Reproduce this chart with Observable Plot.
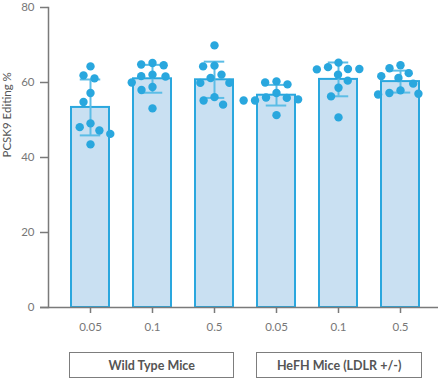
<!DOCTYPE html>
<html>
<head>
<meta charset="utf-8">
<script src="https://cdn.jsdelivr.net/npm/d3@7"></script>
<script src="https://cdn.jsdelivr.net/npm/@observablehq/plot@0.6"></script>
<style>
  html, body { margin: 0; padding: 0; background: #fff; }
  #wrap { position: relative; width: 440px; height: 381px; font-family: Lato, "Open Sans", sans-serif; }
  #wrap svg { position: absolute; top: 0; left: 0; background: transparent; }
  .gbox { position: absolute; box-sizing: border-box; border: 1.5px solid #7d7d7d; background: #fff;
          display: flex; align-items: center; justify-content: center;
          font-size: 12.5px; font-weight: 700; color: #555; }
</style>
</head>
<body>
<div id="wrap"></div>
<script>
// ---- data ----
const groups = ["Wild Type Mice", "HeFH Mice (LDLR +/-)"];
const doses = ["0.05", "0.1", "0.5"];
const yTicks = [0, 20, 40, 60, 80];
const yTitle = "PCSK9 Editing %";

const wt005 = [64.3, 61.9, 61.1, 57.2, 54.8, 49.1, 48.1, 47.2, 46.3, 43.5];
const wt01  = [65.2, 64.8, 64.6, 62.1, 61.7, 61.6, 60.0, 58.8, 58.0, 53.1];
const wt05  = [69.9, 64.5, 64.3, 62.1, 61.2, 59.9, 59.9, 56.1, 55.2, 54.1];
const he005 = [60.3, 60.0, 59.5, 57.2, 56.0, 55.9, 55.5, 55.2, 55.2, 51.3];
const he01  = [65.3, 64.1, 63.6, 63.6, 63.5, 62.1, 60.5, 58.6, 56.3, 50.7];
const he05  = [64.6, 63.8, 62.5, 61.7, 61.2, 59.7, 57.9, 57.2, 57.0, 56.8];

const series = [
  [groups[0], doses[0], wt005], [groups[0], doses[1], wt01], [groups[0], doses[2], wt05],
  [groups[1], doses[0], he005], [groups[1], doses[1], he01], [groups[1], doses[2], he05]
];
const rows = series.flatMap(([g, d, vals]) => vals.map(v => ({key: g + "|" + d, group: g, dose: d, value: v})));
const keys = series.map(([g, d]) => g + "|" + d);

const lo = V => d3.mean(V) - d3.deviation(V);
const hi = V => d3.mean(V) + d3.deviation(V);

const W = 440, H = 345;
const common = {width: W, height: H, marginTop: 7, marginBottom: 38, marginLeft: 48, marginRight: 0};
const band = {domain: keys, paddingInner: 0.384, paddingOuter: 0.329, align: 0.535};

const axisColor = "#7a7a7a";
const barFill = "#c9e0f2", barStroke = "#2aa7de", errColor = "#5cbde6", dotColor = "#29a7de";

const base = Plot.plot({
  ...common,
  style: {fontFamily: "Lato, 'Open Sans', sans-serif", fontSize: "11.5px", color: "#777", background: "transparent"},
  x: {...band, axis: null},
  y: {domain: [0, 80], axis: null},
  marks: [
    Plot.barY(rows, Plot.groupX({y: "mean"}, {x: "key", y: "value", fill: barFill, stroke: barStroke, strokeWidth: 2})),
    Plot.ruleX(rows, Plot.groupX({y1: lo, y2: hi}, {x: "key", y1: "value", y2: "value", stroke: errColor, strokeWidth: 2})),
    Plot.tickY(rows, Plot.groupX({y: lo}, {x: "key", y: "value", stroke: errColor, strokeWidth: 2, inset: 8.75})),
    Plot.tickY(rows, Plot.groupX({y: hi}, {x: "key", y: "value", stroke: errColor, strokeWidth: 2, inset: 8.75})),
    Plot.ruleY([0], {stroke: axisColor, strokeWidth: 1.5, insetLeft: -8, insetRight: 2}),
    Plot.frame({anchor: "left", stroke: axisColor, strokeWidth: 1.5}),
    Plot.axisY({ticks: yTicks, tickSize: 8, tickPadding: 6, label: null, stroke: axisColor, strokeWidth: 1.5, fill: "#777"}),
    Plot.axisX({tickSize: 6, tickPadding: 9, label: null, stroke: axisColor, strokeWidth: 1.5, fill: "#777",
                tickFormat: k => k.split("|")[1]}),
    Plot.text([yTitle], {frameAnchor: "left", rotate: -90, dx: -41, fill: "#555", fontSize: 11.5})
  ]
});

const dots = Plot.plot({
  ...common,
  style: {background: "transparent"},
  fx: {...band, axis: null, label: null},
  y: {domain: [0, 80], axis: null},
  marks: [
    Plot.dot(rows, Plot.dodgeX({anchor: "middle", padding: 3}, {fx: "key", y: "value", r: 4.2, fill: dotColor}))
  ]
});

const wrap = document.getElementById("wrap");
wrap.appendChild(base);
wrap.appendChild(dots);

// group boxes placed from the plot's own x scale
const s = base.scale("x");
const bx = d3.scaleBand(s.domain, s.range).paddingInner(s.paddingInner).paddingOuter(s.paddingOuter).align(s.align);
groups.forEach(g => {
  const ks = keys.filter(k => k.startsWith(g + "|"));
  const left = bx(ks[0]) - 1, right = bx(ks[ks.length - 1]) + bx.bandwidth() + 1;
  const div = document.createElement("div");
  div.className = "gbox";
  div.style.left = left + "px";
  div.style.width = (right - left) + "px";
  div.style.top = "352px";
  div.style.height = "26px";
  div.textContent = g;
  wrap.appendChild(div);
});
</script>
</body>
</html>
